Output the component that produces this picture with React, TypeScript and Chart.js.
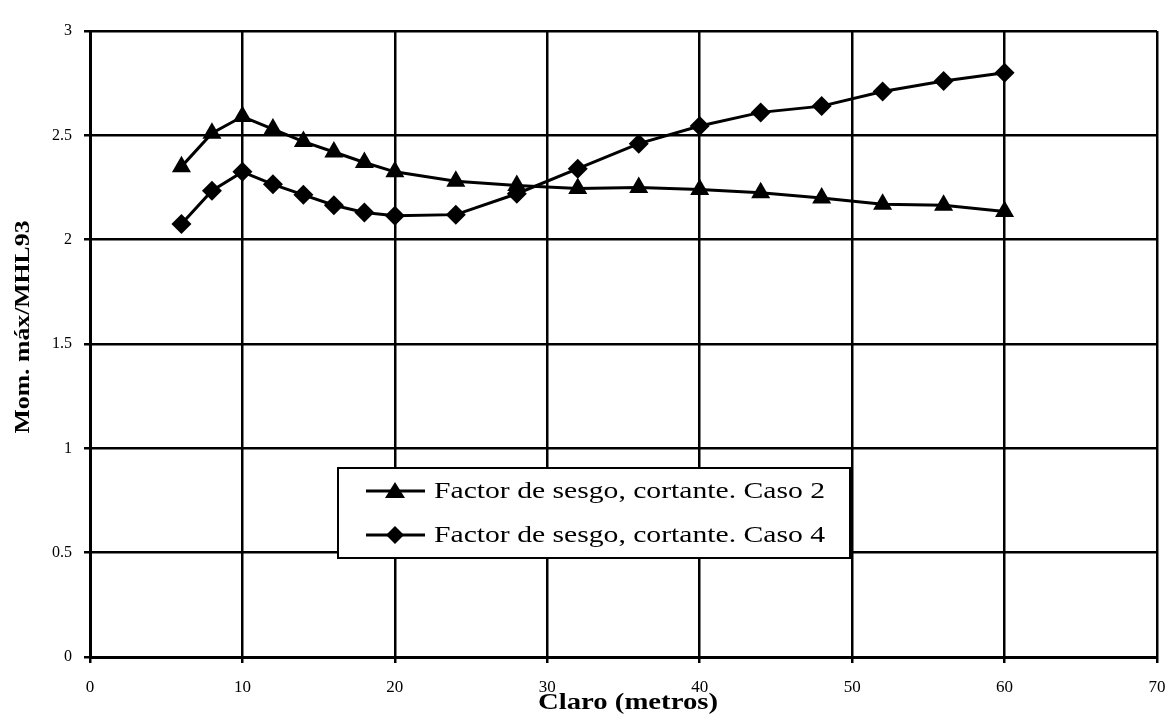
import React, { useEffect, useRef } from "react";
import { Chart, registerables } from "chart.js";

Chart.register(...registerables);

const claroMetros = [6, 8, 10, 12, 14, 16, 18, 20, 24, 28, 32, 36, 40, 44, 48, 52, 56, 60];
const caso2 = [2.35, 2.51, 2.59, 2.53, 2.47, 2.42, 2.37, 2.325, 2.28, 2.26, 2.245, 2.25, 2.24, 2.225, 2.2, 2.17, 2.165, 2.135];
const caso4 = [2.075, 2.235, 2.325, 2.265, 2.215, 2.165, 2.13, 2.115, 2.12, 2.22, 2.34, 2.46, 2.545, 2.61, 2.64, 2.71, 2.76, 2.8];
const seriesNames = ["Factor de sesgo, cortante. Caso 2", "Factor de sesgo, cortante. Caso 4"];
const xTitle = "Claro (metros)";
const yTitle = "Mom. máx/MHL93";

const FONT = "'Liberation Serif', 'Times New Roman', serif";

function fitText(ctx: CanvasRenderingContext2D, text: string, x: number, y: number, targetW: number, align: "left" | "center") {
  const w = ctx.measureText(text).width;
  const s = targetW / w;
  ctx.save();
  ctx.translate(x, y);
  ctx.scale(s, 1);
  ctx.textAlign = align;
  ctx.fillText(text, 0, 0);
  ctx.restore();
}

const overlayPlugin = {
  id: "overlay",
  afterDraw(chart: any) {
    const ctx = chart.ctx as CanvasRenderingContext2D;
    ctx.save();
    ctx.fillStyle = "#000";
    ctx.textBaseline = "middle";
    // x title
    ctx.font = `bold 24px ${FONT}`;
    fitText(ctx, xTitle, 628, 703, 180, "center");
    // y title
    ctx.save();
    ctx.translate(23, 327);
    ctx.rotate(-Math.PI / 2);
    ctx.font = `bold 22px ${FONT}`;
    fitText(ctx, yTitle, 0, 0, 213, "center");
    ctx.restore();

    // legend box
    const lx = 338, ly = 468, lw = 512, lh = 90;
    ctx.fillStyle = "#fff";
    ctx.fillRect(lx, ly, lw, lh);
    ctx.lineWidth = 2;
    ctx.strokeStyle = "#000";
    ctx.strokeRect(lx, ly, lw, lh);
    const rows = [
      { y: 491, style: "triangle" },
      { y: 535, style: "rectRot" },
    ];
    rows.forEach((r, i) => {
      ctx.beginPath();
      ctx.lineWidth = 3;
      ctx.moveTo(366, r.y);
      ctx.lineTo(425, r.y);
      ctx.stroke();
      ctx.fillStyle = "#000";
      ctx.beginPath();
      if (r.style === "triangle") {
        ctx.moveTo(395, r.y - 9);
        ctx.lineTo(405, r.y + 7);
        ctx.lineTo(385, r.y + 7);
      } else {
        ctx.moveTo(395, r.y - 9);
        ctx.lineTo(404, r.y);
        ctx.lineTo(395, r.y + 9);
        ctx.lineTo(386, r.y);
      }
      ctx.closePath();
      ctx.fill();
      ctx.font = `24px ${FONT}`;
      ctx.textBaseline = "middle";
      fitText(ctx, seriesNames[i], 434, r.y + 1, 391, "left");
    });
    ctx.restore();
  },
};

export default function App() {
  const ref = useRef<HTMLCanvasElement>(null);
  useEffect(() => {
    document.body.style.margin = "0";
    const canvas = ref.current!;
    const chart = new Chart(canvas, {
      type: "scatter",
      data: {
        datasets: [
          {
            label: seriesNames[0],
            data: claroMetros.map((x, i) => ({ x, y: caso2[i] })),
            showLine: true,
            borderColor: "#000",
            backgroundColor: "#000",
            borderWidth: 3,
            pointStyle: "triangle",
            pointRadius: 11,
            pointBorderWidth: 0,
          },
          {
            label: seriesNames[1],
            data: claroMetros.map((x, i) => ({ x, y: caso4[i] })),
            showLine: true,
            borderColor: "#000",
            backgroundColor: "#000",
            borderWidth: 3,
            pointStyle: "rectRot",
            pointRadius: 10,
            pointBorderWidth: 0,
          },
        ],
      },
      options: {
        responsive: false,
        animation: false,
        layout: { padding: { top: 31, right: 14, left: 0, bottom: 0 } },
        plugins: {
          legend: { display: false },
          tooltip: { enabled: false },
          title: { display: false },
        },
        scales: {
          x: {
            type: "linear",
            min: 0,
            max: 70,
            afterFit: (s: any) => {
              s.height = 63;
              s.paddingRight = 0;
              s.paddingLeft = 0;
            },
            ticks: {
              stepSize: 10,
              color: "#000",
              font: { family: FONT, size: 17 },
              padding: 14,
            },
            grid: {
              color: "#000",
              lineWidth: 2.5,
              tickLength: 6,
              tickColor: "#000",
            },
            border: { color: "#000", width: 3 },
          },
          y: {
            min: 0,
            max: 3,
            afterFit: (s: any) => {
              s.width = 90;
              s.paddingTop = 0;
              s.paddingBottom = 0;
            },
            ticks: {
              stepSize: 0.5,
              color: "#000",
              font: { family: FONT, size: 16 },
              padding: 12,
              callback: (v: any) => String(Number(v)),
            },
            grid: {
              color: "#000",
              lineWidth: 2.5,
              tickLength: 6,
              tickColor: "#000",
            },
            border: { color: "#000", width: 3 },
          },
        },
      },
      plugins: [overlayPlugin],
    });
    return () => chart.destroy();
  }, []);
  return (
    <div style={{ width: 1171, height: 720, background: "#fff" }}>
      <canvas ref={ref} width={1171} height={720} style={{ display: "block" }} />
    </div>
  );
}
